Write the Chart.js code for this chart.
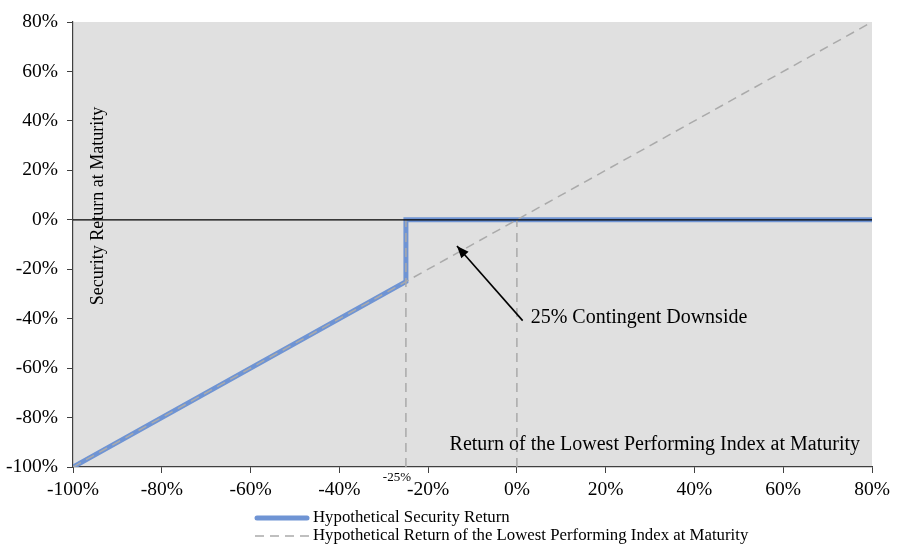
<!DOCTYPE html>
<html>
<head>
<meta charset="utf-8">
<script src="https://cdn.jsdelivr.net/npm/chart.js@4.4.1/dist/chart.umd.min.js"></script>
<style>
  html, body { margin: 0; padding: 0; background: #ffffff; }
  #wrap { width: 900px; height: 553px; }
</style>
</head>
<body>
<div id="wrap"><canvas id="payoff" width="900" height="553"></canvas></div>
<script>
// ── data ──
const tickValues = [-100, -80, -60, -40, -20, 0, 20, 40, 60, 80];
const securityX = [-100, -25, -25, 80];
const securityY = [-100, -25, 0, 0];
const indexX = [-100, 80];
const indexY = [-100, 80];
const markerX = [-25, 0];          // dashed verticals down from the payoff
const zeroLineX = [-100, 80];
const barrierLabel = '-25%';

const seriesNames = [
  'Hypothetical Security Return',
  'Hypothetical Return of the Lowest Performing Index at Maturity'
];

const pts = (xs, ys) => xs.map((x, i) => ({ x: x, y: ys[i] }));

const FONT = '"Liberation Serif", "Times New Roman", serif';
const BLUE = '#6f94d4';
const GREY = '#aaaaaa';
const AXIS = '#404040';

// plot-area background + annotations + legend
const decor = {
  id: 'decor',
  beforeDraw(chart) {
    const { ctx, chartArea: a } = chart;
    ctx.save();
    ctx.fillStyle = '#e0e0e0';
    ctx.fillRect(a.left, a.top, a.right - a.left, a.bottom - a.top);
    ctx.restore();
  },
  afterDraw(chart) {
    const { ctx, scales: { x, y } } = chart;
    ctx.save();
    ctx.fillStyle = '#000';

    // rotated y title inside the plot
    ctx.font = '18px ' + FONT;
    ctx.save();
    ctx.translate(98, 206);
    ctx.rotate(-Math.PI / 2);
    ctx.textAlign = 'center';
    ctx.textBaseline = 'middle';
    ctx.fillText('Security Return at Maturity', 0, 0);
    ctx.restore();

    // x title inside the plot, bottom right
    ctx.font = '20px ' + FONT;
    ctx.textAlign = 'right';
    ctx.textBaseline = 'middle';
    ctx.fillText('Return of the Lowest Performing Index at Maturity', 860, 445);

    // barrier label under axis
    ctx.font = '13px ' + FONT;
    ctx.textAlign = 'center';
    ctx.fillText(barrierLabel, x.getPixelForValue(-25) - 9, 478);

    // arrow + callout
    const tx = x.getPixelForValue(1.3), ty = y.getPixelForValue(-40.8);
    const hx = x.getPixelForValue(-13.5), hy = y.getPixelForValue(-10.6);
    ctx.strokeStyle = '#000';
    ctx.lineWidth = 1.6;
    ctx.beginPath();
    ctx.moveTo(tx, ty);
    ctx.lineTo(hx, hy);
    ctx.stroke();
    const ang = Math.atan2(hy - ty, hx - tx);
    ctx.beginPath();
    ctx.moveTo(hx, hy);
    ctx.lineTo(hx - 13 * Math.cos(ang - 0.38), hy - 13 * Math.sin(ang - 0.38));
    ctx.lineTo(hx - 13 * Math.cos(ang + 0.38), hy - 13 * Math.sin(ang + 0.38));
    ctx.closePath();
    ctx.fill();
    ctx.font = '20px ' + FONT;
    ctx.textAlign = 'left';
    ctx.fillText('25% Contingent Downside', tx + 8, ty - 3);

    // legend
    ctx.font = '16.8px ' + FONT;
    ctx.lineCap = 'round';
    ctx.strokeStyle = BLUE;
    ctx.lineWidth = 5;
    ctx.beginPath();
    ctx.moveTo(257, 518);
    ctx.lineTo(307, 518);
    ctx.stroke();
    ctx.lineCap = 'butt';
    ctx.strokeStyle = GREY;
    ctx.lineWidth = 1.5;
    ctx.setLineDash([9, 6]);
    ctx.beginPath();
    ctx.moveTo(255, 536);
    ctx.lineTo(309, 536);
    ctx.stroke();
    ctx.setLineDash([]);
    ctx.fillText(seriesNames[0], 313, 518);
    ctx.fillText(seriesNames[1], 313, 536);
    ctx.restore();
  }
};

const dashedVertical = xv => ({
  data: pts([xv, xv], [-100, 0]),
  showLine: true,
  borderColor: GREY,
  borderWidth: 1.5,
  borderDash: [9, 6],
  pointRadius: 0,
  order: 2
});

new Chart(document.getElementById('payoff').getContext('2d'), {
  type: 'scatter',
  data: {
    datasets: [
      {
        label: seriesNames[0],
        data: pts(securityX, securityY),
        showLine: true,
        borderColor: BLUE,
        borderWidth: 5,
        pointRadius: 0,
        order: 3
      },
      {
        label: seriesNames[1],
        data: pts(indexX, indexY),
        showLine: true,
        borderColor: GREY,
        borderWidth: 1.5,
        borderDash: [9, 6],
        pointRadius: 0,
        order: 2
      },
      ...markerX.map(dashedVertical),
      {
        data: pts(zeroLineX, [0, 0]),
        showLine: true,
        borderColor: '#000',
        borderWidth: 1.2,
        pointRadius: 0,
        order: 1
      }
    ]
  },
  options: {
    responsive: false,
    animation: false,
    layout: { padding: { left: 0, right: 28, top: 22, bottom: 56 } },
    plugins: { legend: { display: false }, tooltip: { enabled: false } },
    scales: {
      x: {
        type: 'linear',
        min: -100,
        max: 80,
        afterBuildTicks: s => { s.ticks = tickValues.map(v => ({ value: v })); },
        afterFit: s => { s.height = 30; },
        grid: { drawOnChartArea: false, drawTicks: true, tickLength: 6, color: AXIS },
        border: { color: AXIS, width: 1.2 },
        ticks: {
          color: '#000',
          font: { family: FONT, size: 19.5 },
          padding: 5,
          maxRotation: 0,
          callback: v => v + '%'
        }
      },
      y: {
        type: 'linear',
        min: -100,
        max: 80,
        afterBuildTicks: s => { s.ticks = tickValues.map(v => ({ value: v })); },
        afterFit: s => { s.width = 73; },
        grid: { drawOnChartArea: false, drawTicks: true, tickLength: 6, color: AXIS },
        border: { color: AXIS, width: 1.2 },
        ticks: {
          color: '#000',
          font: { family: FONT, size: 19.5 },
          padding: 9,
          callback: v => v + '%'
        }
      }
    }
  },
  plugins: [decor]
});
</script>
</body>
</html>
